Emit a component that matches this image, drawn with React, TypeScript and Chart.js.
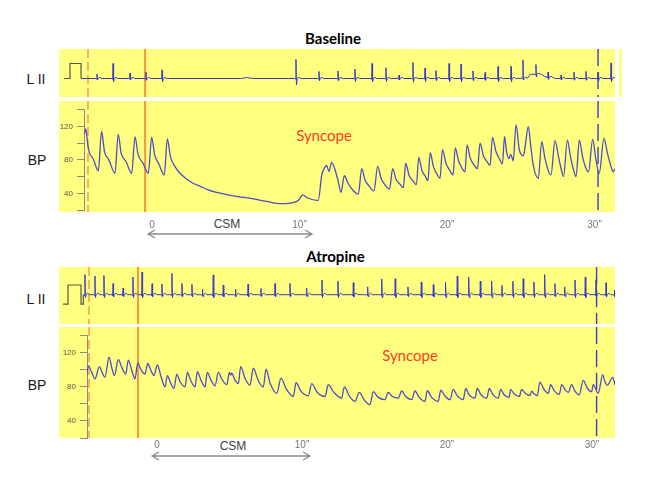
import React, { useEffect, useRef } from 'react';
import { Chart, registerables } from 'chart.js';

Chart.register(...registerables);
Chart.defaults.font.family = '"Liberation Sans", Arial, sans-serif';

type Pt = [number, number];
type Beat = [number, number, number, number]; // time s, R top, S trough, baseline level

// ---------- shared axis data ----------
const TIME_TICKS = [0, 10, 20, 30];
const TIME_LABELS = ['0', '10\u201d', '20\u201d', '30\u201d'];
const BP_TICKS = [20, 40, 60, 80, 100, 120, 140];
const BP_LABELED = [40, 80, 120];

// ---------- Baseline ----------
const BASELINE_PULSE: Pt[] = [[-5.97, 0], [-5.56, 0], [-5.56, 1.0], [-4.81, 1.0], [-4.81, 0]];
const BASELINE_ECG_LEVEL: Pt[] = [
  [-4.81, 0], [6.0, 0], [6.4, 0.06], [6.9, 0], [25.45, 0.03], [25.65, 0.28],
  [26.4, 0.28], [26.62, 0.14], [27.3, 0.01], [31.5, 0],
];
const BASELINE_ECG_BEATS: Beat[] = [
  [-3.73, 0.3, -0.08, 0], [-2.64, 1.0, -0.2, 0], [-1.49, 0.37, -0.1, 0], [-0.41, 0.43, -0.12, 0],
  [0.68, 0.57, -0.23, 0], [9.76, 1.27, -0.43, 0], [11.32, 0.47, -0.15, 0], [12.61, 0.5, -0.15, 0],
  [13.76, 0.63, -0.2, 0], [14.92, 1.0, -0.2, 0], [15.86, 0.72, -0.2, 0], [16.75, 0.23, -0.08, 0],
  [17.69, 1.07, -0.25, 0], [18.51, 0.7, -0.2, 0], [19.25, 0.53, -0.15, 0], [20.14, 1.0, -0.2, 0],
  [20.95, 0.97, -0.2, 0], [21.76, 0.5, -0.15, 0], [22.58, 0.4, -0.12, 0], [23.46, 0.8, -0.2, 0],
  [24.34, 0.8, -0.2, 0], [25.15, 1.23, -0.1, 0.02], [26.03, 0.93, 0.1, 0.28], [26.85, 0.43, -0.05, 0.08],
  [27.73, 0.23, -0.08, 0], [28.61, 0.43, -0.12, 0], [29.42, 0.47, -0.12, 0], [30.24, 0.4, -0.15, 0],
  [31.12, 1.03, -0.2, 0],
];
const BASELINE_BP: Pt[] = [
  [-4.59, 111], [-4.49, 117], [-4.36, 99], [-4.25, 89], [-3.98, 81], [-3.64, 67],
  [-3.42, 114], [-3.22, 90], [-2.92, 80], [-2.51, 64],
  [-2.29, 110.5], [-2.09, 88], [-1.76, 78], [-1.38, 64],
  [-1.15, 107.5], [-0.95, 87], [-0.61, 76], [-0.25, 64],
  [-0.02, 107], [0.18, 86], [0.47, 75], [0.83, 62],
  [1.04, 105], [1.25, 84], [1.56, 72], [1.9, 64], [2.35, 57], [2.78, 52], [3.25, 48.6], [3.8, 44],
  [4.39, 41], [5.51, 37], [6.87, 33.3], [7.78, 30.3], [8.68, 27.6], [9.36, 28.3], [9.92, 31.4],
  [10.22, 38], [10.49, 35], [11.27, 31.4],
  [11.51, 62], [11.73, 71.4], [11.84, 73.3], [12.0, 66], [12.18, 77], [12.41, 68], [12.63, 54], [12.81, 41],
  [13.04, 61], [13.29, 52], [13.56, 45], [13.99, 39],
  [14.22, 69.5], [14.44, 56], [14.71, 49], [15.05, 43],
  [15.3, 72.3], [15.53, 58], [15.8, 50], [16.1, 45],
  [16.32, 69.5], [16.54, 57], [16.81, 51], [17.04, 46.7],
  [17.2, 76], [17.42, 62], [17.69, 55], [17.93, 50.5],
  [18.08, 83], [18.31, 67], [18.54, 60], [18.71, 55],
  [18.86, 88.6], [19.08, 72], [19.32, 63], [19.53, 58],
  [19.69, 92.4], [19.93, 76], [20.2, 67], [20.41, 62],
  [20.56, 94.3], [20.78, 79], [21.02, 70], [21.22, 65.7],
  [21.36, 98], [21.56, 83], [21.83, 74], [22.07, 69.5],
  [22.24, 100], [22.47, 85], [22.71, 78], [22.92, 73.3],
  [23.08, 107], [23.32, 90], [23.56, 81], [23.76, 75.4],
  [23.9, 107.7], [24.05, 88.6], [24.2, 81.7], [24.32, 86.7], [24.49, 79],
  [24.68, 122], [24.9, 92.4], [25.05, 86], [25.17, 84.8], [25.29, 95],
  [25.51, 119.8], [25.69, 95], [25.85, 73.3], [26.19, 58],
  [26.42, 102], [26.64, 82], [26.85, 68], [27.05, 62],
  [27.32, 103.2], [27.56, 84], [27.73, 70], [27.9, 60],
  [28.16, 103.8], [28.37, 84], [28.58, 68], [28.75, 60],
  [28.97, 103.8], [29.19, 84], [29.42, 70], [29.59, 65.7],
  [29.88, 104.6], [30.1, 80], [30.32, 63.8],
  [30.64, 105.7], [30.88, 88], [31.12, 72], [31.27, 65.7], [31.39, 69.5],
];
const BASELINE_MARKERS = [-4.34, -0.47, 30.24];
const BASELINE_CSM: Pt = [-0.27, 10.85];

// ---------- Atropine ----------
const ATROPINE_PULSE: Pt[] = [[-6.48, -0.5], [-6.14, -0.5], [-6.14, 0.51], [-5.24, 0.51], [-5.24, -0.5], [-5.1, -0.5], [-5.08, 0]];
const ATROPINE_ECG_LEVEL: Pt[] = [[-5.08, 0], [31.7, 0]];
const ATROPINE_ECG_BEATS: Beat[] = [
  [-4.97, 1.06, -0.15, 0], [-4.28, 0.98, -0.15, 0], [-3.66, 1.01, -0.15, 0], [-3.03, 0.59, -0.12, 0],
  [-2.34, 0.35, -0.1, 0], [-1.66, 0.93, -0.15, 0], [-1.03, 1.19, -0.15, 0], [-0.34, 0.58, -0.12, 0],
  [0.34, 0.56, -0.12, 0], [1.03, 1.12, -0.15, 0], [1.72, 0.59, -0.12, 0], [2.41, 0.54, -0.12, 0],
  [3.14, 0.3, -0.1, 0], [3.88, 1.04, -0.15, 0], [4.57, 0.51, -0.12, 0], [5.41, 0.28, -0.1, 0],
  [6.28, 0.56, -0.12, 0], [7.17, 0.33, -0.1, 0], [8.14, 0.59, -0.12, 0], [9.17, 0.59, -0.12, 0],
  [10.32, 0.35, -0.1, 0], [11.38, 0.77, -0.15, 0], [12.48, 0.71, -0.15, 0], [13.54, 0.63, -0.12, 0],
  [14.53, 0.41, -0.1, 0], [15.5, 0.83, -0.15, 0], [16.43, 0.84, -0.15, 0], [17.31, 0.41, -0.1, 0],
  [18.23, 0.67, -0.15, 0], [19.06, 0.53, -0.12, 0], [19.9, 0.65, -0.15, 0], [20.71, 0.98, -0.15, 0],
  [21.5, 0.93, -0.15, 0], [22.3, 0.71, -0.15, 0], [23.08, 0.71, -0.15, 0], [23.79, 0.49, -0.12, 0],
  [24.55, 0.71, -0.15, 0], [25.26, 0.84, -0.15, 0], [26.0, 0.67, -0.15, 0], [26.74, 1.06, -0.15, 0],
  [27.45, 0.58, -0.12, 0], [28.12, 0.41, -0.1, 0], [28.83, 0.77, -0.15, 0], [29.54, 0.93, -0.15, 0],
  [30.28, 0.79, -0.15, 0], [30.97, 0.63, -0.12, 0], [31.55, 0.25, -0.1, 0],
];
const ATROPINE_BP: Pt[] = [
  [-4.9, 85.7], [-4.74, 104.6], [-4.5, 97], [-4.28, 89.4],
  [-3.98, 103.8], [-3.79, 97], [-3.59, 91.3],
  [-3.31, 114.8], [-3.1, 101], [-2.94, 93.3],
  [-2.67, 112], [-2.41, 102], [-2.16, 95.1],
  [-1.98, 111.4], [-1.72, 98], [-1.52, 89.4],
  [-1.33, 108.3], [-1.1, 100], [-0.83, 95.1],
  [-0.64, 107.5], [-0.41, 99], [-0.21, 93.3],
  [0.02, 105.7], [0.28, 92], [0.55, 80],
  [0.71, 93.3], [0.93, 85], [1.17, 78.1],
  [1.36, 95.1], [1.59, 86], [1.93, 80],
  [2.09, 97], [2.34, 87], [2.62, 80],
  [2.78, 97.8], [3.03, 88], [3.31, 80],
  [3.47, 97], [3.72, 88], [4.0, 81.2],
  [4.23, 97], [4.48, 89], [4.81, 82.6],
  [4.99, 97], [5.07, 94], [5.15, 96], [5.38, 88], [5.61, 83.8],
  [5.77, 103.8], [6.07, 90], [6.41, 82],
  [6.64, 101.9], [6.97, 88], [7.33, 80],
  [7.52, 100.7], [7.79, 85], [8.26, 72.4],
  [8.55, 90.2], [8.9, 78], [9.4, 68.7],
  [9.59, 84.9], [9.93, 75], [10.43, 69.5],
  [10.67, 83.8], [11.03, 74], [11.59, 68.7],
  [11.81, 82.6], [12.16, 74.4], [12.74, 66.8],
  [12.92, 80], [13.24, 70], [13.66, 63],
  [13.95, 73.6], [14.28, 65], [14.69, 59.2],
  [14.92, 74.4], [15.24, 68], [15.72, 65],
  [15.95, 73.6], [16.21, 69], [16.64, 66.8],
  [16.88, 75.2], [17.14, 69], [17.57, 65],
  [17.79, 75.2], [18.07, 68], [18.48, 63],
  [18.64, 75.5], [18.93, 68], [19.4, 63],
  [19.57, 76.3], [19.83, 70], [20.21, 65],
  [20.43, 77], [20.69, 70], [21.12, 65],
  [21.29, 78.1], [21.52, 71], [21.93, 66.8],
  [22.09, 78.1], [22.34, 71], [22.74, 66.8],
  [22.92, 78.1], [23.17, 71], [23.54, 66.8],
  [23.7, 77.2], [23.93, 71], [24.28, 67.6],
  [24.39, 77], [24.62, 72], [24.99, 68.7],
  [25.15, 77], [25.38, 73], [25.72, 69.8],
  [25.84, 75], [26.0, 72], [26.23, 69.8],
  [26.41, 85.7], [26.66, 78], [26.99, 72.4],
  [27.15, 82.6], [27.38, 76], [27.75, 71.3],
  [27.91, 82.6], [28.14, 77], [28.37, 73.6],
  [28.6, 82.6], [28.83, 75], [29.12, 70.5],
  [29.4, 87.6], [29.66, 79], [29.98, 74.4],
  [30.09, 82.6], [30.43, 72.4],
  [30.74, 94], [30.9, 86], [31.06, 81.9],
  [31.43, 91.3], [31.59, 82.6],
];
const ATROPINE_MARKERS = [-4.69, -1.31, 30.32];
const ATROPINE_CSM: Pt = [-0.34, 10.55];

// ---------- styles ----------
const YELLOW = '#ffff80';
const ECG_COLOR = '#3a3ac8';
const BP_COLOR = '#4c4cc8';
const MARKER_STYLES = [
  { color: '#f7a05a', width: 1.6, dash: [9, 4] },
  { color: '#f79646', width: 2, dash: [] as number[] },
  { color: '#3a3ad0', width: 1.4, dash: [17, 6] },
];

function toXY(points: Pt[]) {
  return points.map(([x, y]) => ({ x, y }));
}

function buildEcg(level: Pt[], beats: Beat[]) {
  const pts = toXY(level);
  for (const [t, r, s, L] of beats) {
    pts.push(
      { x: t - 0.07, y: L },
      { x: t - 0.025, y: L - 0.05 },
      { x: t, y: r },
      { x: t + 0.035, y: s },
      { x: t + 0.08, y: L },
      { x: t + 0.2, y: L + 0.08 },
      { x: t + 0.31, y: L },
    );
  }
  pts.sort((a, b) => a.x - b.x);
  return pts;
}

function markerPlugin(times: number[], y0: number, y1: number) {
  return {
    id: 'markers',
    beforeDatasetsDraw(chart: any) {
      const ctx = chart.ctx;
      const xs = chart.scales.x;
      times.forEach((t, i) => {
        const st = MARKER_STYLES[i];
        const px = xs.getPixelForValue(t);
        ctx.save();
        ctx.strokeStyle = st.color;
        ctx.lineWidth = st.width;
        ctx.setLineDash(st.dash);
        ctx.beginPath();
        ctx.moveTo(px, y0);
        ctx.lineTo(px, y1);
        ctx.stroke();
        ctx.restore();
      });
    },
  };
}

function arrowPlugin(span: Pt, y: number) {
  return {
    id: 'csmArrow',
    afterDraw(chart: any) {
      const ctx = chart.ctx;
      const xs = chart.scales.x;
      const a = xs.getPixelForValue(span[0]);
      const b = xs.getPixelForValue(span[1]);
      ctx.save();
      ctx.strokeStyle = '#8c8c8c';
      ctx.lineWidth = 1.3;
      ctx.beginPath();
      ctx.moveTo(a, y);
      ctx.lineTo(b, y);
      ctx.moveTo(a + 7, y - 4);
      ctx.lineTo(a, y);
      ctx.lineTo(a + 7, y + 4);
      ctx.moveTo(b - 7, y - 4);
      ctx.lineTo(b, y);
      ctx.lineTo(b - 7, y + 4);
      ctx.stroke();
      ctx.restore();
    },
  };
}

const baseOptions = {
  animation: false as const,
  responsive: false,
  maintainAspectRatio: false,
  events: [] as any[],
  elements: { point: { radius: 0 }, line: { tension: 0 } },
  plugins: { legend: { display: false }, tooltip: { enabled: false } },
};

function ecgConfig(pulse: Pt[], level: Pt[], beats: Beat[], xMin: number, xMax: number, yMin: number, yMax: number, markers: number[], h: number) {
  return {
    type: 'line',
    data: {
      datasets: [
        { data: toXY(pulse), borderColor: '#555555', borderWidth: 1.2, pointRadius: 0 },
        { data: buildEcg(level, beats), borderColor: ECG_COLOR, borderWidth: 1, pointRadius: 0 },
      ],
    },
    options: {
      ...baseOptions,
      layout: { padding: 0, autoPadding: false },
      scales: {
        x: { type: 'linear', min: xMin, max: xMax, display: false },
        y: { type: 'linear', min: yMin, max: yMax, display: false },
      },
    },
    plugins: [markerPlugin(markers, 0, h)],
  } as any;
}

function bpConfig(p: {
  data: Pt[]; xMin: number; xMax: number; yW: number; padTop: number; xH: number; tickPad: number;
  markers: number[]; markerY1: number; csm: Pt; arrowY: number;
}) {
  return {
    type: 'line',
    data: {
      datasets: [{
        data: toXY(p.data), borderColor: BP_COLOR, borderWidth: 1.3, pointRadius: 0,
        cubicInterpolationMode: 'monotone',
      }],
    },
    options: {
      ...baseOptions,
      layout: { padding: { left: 0, right: 35, top: p.padTop, bottom: 0 }, autoPadding: false },
      scales: {
        x: {
          type: 'linear', min: p.xMin, max: p.xMax,
          afterBuildTicks: (s: any) => { s.ticks = TIME_TICKS.map((v) => ({ value: v })); },
          afterFit: (s: any) => { s.height = p.xH; },
          grid: { display: false, drawTicks: false },
          border: { display: false },
          ticks: {
            callback: (v: any) => { const i = TIME_TICKS.indexOf(Number(v)); return i >= 0 ? TIME_LABELS[i] : ''; },
            font: { size: 10 }, color: '#777777', padding: p.tickPad, maxRotation: 0, autoSkip: false,
          },
        },
        y: {
          type: 'linear', min: 20, max: 140,
          afterBuildTicks: (s: any) => { s.ticks = BP_TICKS.map((v) => ({ value: v })); },
          afterFit: (s: any) => { s.width = p.yW; },
          grid: { drawOnChartArea: false, drawTicks: true, tickLength: 7, color: '#8a8a8a', lineWidth: 1 },
          border: { display: true, color: '#8a8a8a', width: 1 },
          ticks: {
            callback: (v: any) => (BP_LABELED.includes(Number(v)) ? String(v) : ''),
            font: { size: 8 }, color: '#555555', padding: 4, autoSkip: false,
          },
        },
      },
    },
    plugins: [markerPlugin(p.markers, 0, p.markerY1), arrowPlugin(p.csm, p.arrowY)],
  } as any;
}

function ChartCanvas({ left, top, width, height, make }: { left: number; top: number; width: number; height: number; make: () => any }) {
  const ref = useRef<HTMLCanvasElement>(null);
  useEffect(() => {
    const chart = new Chart(ref.current as HTMLCanvasElement, make());
    return () => chart.destroy();
  }, []);
  return (
    <canvas ref={ref} width={width} height={height}
      style={{ position: 'absolute', left, top, width, height }} />
  );
}

function Box({ left, top, width, height }: { left: number; top: number; width: number; height: number }) {
  return <div style={{ position: 'absolute', left, top, width, height, background: YELLOW }} />;
}

const SANS = '"Liberation Sans", Arial, sans-serif';
const LATO = 'Lato, "Liberation Sans", sans-serif';

function Label({ x, top, text, size, weight = 400, color = '#1a1a1a', family = SANS }:
  { x: number; top: number; text: string; size: number; weight?: number; color?: string; family?: string }) {
  return (
    <div style={{
      position: 'absolute', left: x, top, transform: 'translateX(-50%)', whiteSpace: 'nowrap',
      fontFamily: family, fontSize: size, fontWeight: weight, color, lineHeight: 1,
    }}>{text}</div>
  );
}

export default function App() {
  return (
    <div style={{ position: 'absolute', left: 0, top: 0, width: 650, height: 491, background: '#fff', overflow: 'hidden' }}>
      {/* Baseline */}
      <Box left={59} top={49} width={556} height={48} />
      <Box left={619} top={49} width={3} height={48} />
      <Box left={59} top={101} width={556} height={111} />
      <Label x={333} top={30.8} text="Baseline" size={15} weight={700} family={LATO} color="#000" />
      <Label x={36} top={71.5} text="L II" size={14} />
      <Label x={37} top={153.2} text="BP" size={14} />
      <Label x={324} top={127.5} text="Syncope" size={15} color="#ff3d1f" family={LATO} />
      <Label x={227} top={218.1} text="CSM" size={12} color="#404040" />
      <ChartCanvas left={59} top={49} width={556} height={48}
        make={() => ecgConfig(BASELINE_PULSE, BASELINE_ECG_LEVEL, BASELINE_ECG_BEATS, -6.305, 31.39, -1.233, 1.967, BASELINE_MARKERS, 48)} />
      <ChartCanvas left={0} top={101} width={650} height={140}
        make={() => bpConfig({
          data: BASELINE_BP, xMin: -4.61, xMax: 31.39, yW: 84, padTop: 4, xH: 31, tickPad: 9,
          markers: BASELINE_MARKERS, markerY1: 111, csm: BASELINE_CSM, arrowY: 133,
        })} />

      {/* Atropine */}
      <Box left={59} top={267} width={556} height={57} />
      <Box left={59} top={327} width={556} height={111} />
      <Label x={335.5} top={249.2} text="Atropine" size={15} weight={700} family={LATO} color="#000" />
      <Label x={36} top={291.5} text="L II" size={14} />
      <Label x={37} top={377.5} text="BP" size={14} />
      <Label x={410} top={347.5} text="Syncope" size={15} color="#ff3d1f" family={LATO} />
      <Label x={233} top={439.7} text="CSM" size={12} color="#404040" />
      <ChartCanvas left={59} top={267} width={556} height={57}
        make={() => ecgConfig(ATROPINE_PULSE, ATROPINE_ECG_LEVEL, ATROPINE_ECG_BEATS, -6.759, 31.59, -1.542, 1.458, ATROPINE_MARKERS, 57)} />
      <ChartCanvas left={0} top={327} width={650} height={140}
        make={() => bpConfig({
          data: ATROPINE_BP, xMin: -4.83, xMax: 31.59, yW: 87, padTop: 5, xH: 29, tickPad: 1.5,
          markers: ATROPINE_MARKERS, markerY1: 111, csm: ATROPINE_CSM, arrowY: 129,
        })} />
    </div>
  );
}
